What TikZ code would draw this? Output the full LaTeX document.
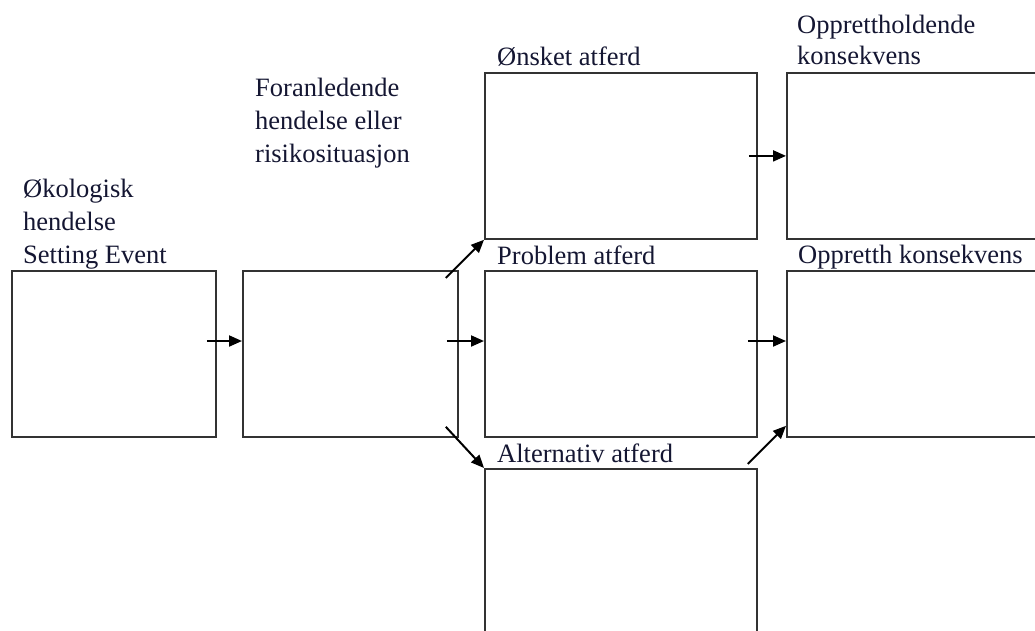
\documentclass[tikz,border=0pt]{standalone}
\usepackage{fontspec}
\setmainfont{Liberation Serif}
\usetikzlibrary{arrows.meta}
\definecolor{labelnavy}{RGB}{20,22,50}
\begin{document}
\begin{tikzpicture}[x=1pt,y=-1pt,
    boks/.style={draw=black!80,line width=1.8pt,inner sep=0pt,anchor=north west},
    boxtitle/.style={anchor=base west,inner sep=0pt,align=left,text=labelnavy,
      font=\fontsize{26.5}{33}\selectfont},
    arr/.style={line width=2pt,-{Triangle[length=13pt,width=11pt]}}]
  % Fix the frame; the boxes run past the right and bottom edges
  \clip (0,0) rectangle (1035,630);

  % Draw the boxes
  \node[boks,minimum width=204pt,minimum height=166pt] (oko) at (11,270) {};
  \node[boks,minimum width=215pt,minimum height=166pt] (foran) at (242,270) {};
  \node[boks,minimum width=272pt,minimum height=166pt] (onsket) at (484,72) {};
  \node[boks,minimum width=272pt,minimum height=166pt] (problem) at (484,270) {};
  \node[boks,minimum width=272pt,minimum height=166pt] (alternativ) at (484,468) {};
  \node[boks,minimum width=272pt,minimum height=166pt] (oppr) at (786,72) {};
  \node[boks,minimum width=272pt,minimum height=166pt] (opprh) at (786,270) {};

  % Add the titles above the boxes (base = last line)
  \node[boxtitle] (okotitle) at (23,263) {Økologisk\\hendelse\\Setting Event};
  \node[boxtitle] (forantitle) at (255,162) {Foranledende\\hendelse eller\\risikosituasjon};
  \node[boxtitle] (onskettitle) at (497,65) {Ønsket atferd};
  \node[boxtitle] (problemtitle) at (497,264) {Problem atferd};
  \node[boxtitle] (alttitle) at (497,462) {Alternativ atferd};
  \node[boxtitle,font=\fontsize{26.5}{31}\selectfont] (opprtitle) at (797,64) {Opprettholdende\\konsekvens};
  \node[boxtitle] (opprhtitle) at (798,263) {Oppretth konsekvens};

  % Arrows between the boxes
  \coordinate (midrow) at (0,341);
  \draw[arr] ([xshift=-10pt]oko.east |- midrow) -- (foran.west |- midrow);
  \draw[arr] ([xshift=-13pt,yshift=-8pt]foran.north east) -- (onsket.south west);
  \draw[arr] ([xshift=-12pt]foran.east |- midrow) -- (problem.west |- midrow);
  \draw[arr] ([xshift=-13pt,yshift=11pt]foran.south east) -- (alternativ.north west);
  \draw[arr] ([xshift=-9pt]onsket.east) -- (oppr.west);
  \draw[arr] ([xshift=-10pt]problem.east |- midrow) -- (opprh.west |- midrow);
  \draw[arr] ([xshift=-10pt,yshift=4pt]alternativ.north east) -- ([yshift=12pt]opprh.south west);
\end{tikzpicture}
\end{document}
